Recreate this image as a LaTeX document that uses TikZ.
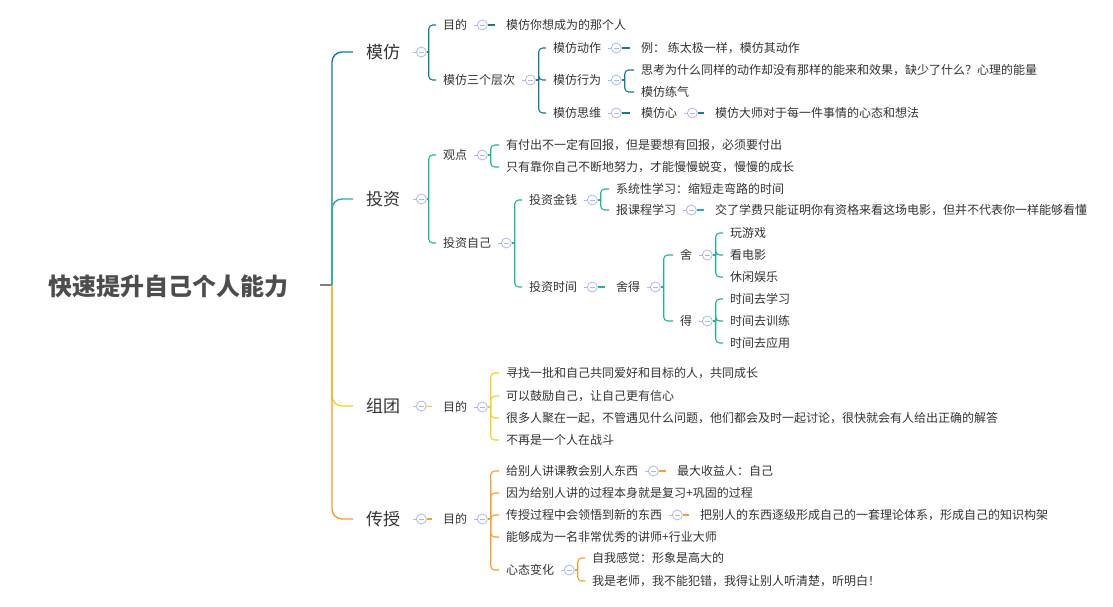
\documentclass[tikz,border=0pt]{standalone}
\usepackage{fontspec}
\setmainfont{Noto Sans CJK SC}
\usetikzlibrary{positioning}
\definecolor{mfblue}{RGB}{18,124,150}
\definecolor{tzgreen}{RGB}{26,184,152}
\definecolor{ztyellow}{RGB}{247,208,28}
\definecolor{csorange}{RGB}{246,160,36}
\definecolor{foldblue}{RGB}{172,186,234}
\definecolor{txtgray}{RGB}{51,51,51}
\definecolor{rootgray}{RGB}{77,77,77}
% collapse marker after a topic
\newcommand{\fold}[2]{\node[fold, right=2.5pt of #2] (#1) {};
  \draw[foldblue, line width=0.8pt] (#2.east) -- (#1.west);}

\begin{document}
\begin{tikzpicture}[x=1pt, y=-1pt,
    txt/.style={anchor=west, inner xsep=7pt, inner ysep=1pt, text=txtgray, font=\fontsize{12}{14}\selectfont},
    big/.style={txt, inner xsep=13pt, font=\fontsize{17}{20}\selectfont},
    fold/.style={circle, draw=foldblue, fill=white, line width=0.8pt, minimum size=10pt, inner sep=0pt,
      path picture={\draw[foldblue, line width=0.8pt] ([xshift=-2.5pt]path picture bounding box.center) -- ([xshift=2.5pt]path picture bounding box.center);}},
    mfline/.style={draw=mfblue, line width=1.1pt, rounded corners=4pt},
    tzline/.style={draw=tzgreen, line width=1.1pt, rounded corners=4pt},
    ztline/.style={draw=ztyellow, line width=1.1pt, rounded corners=4pt},
    csline/.style={draw=csorange, line width=1.1pt, rounded corners=4pt},
    gap/.style={shorten >=4pt}]
\useasboundingbox (0,0) rectangle (1113,606);

\node[font=\fontsize{24}{28}\selectfont\bfseries, text=rootgray] (root) at (168,286) {快速提升自己个人能力};
\coordinate (hubin) at (320,285);
\coordinate (hub) at (332,285);
\draw[gray, line width=1.3pt] (hubin) -- (hub);

% main topics
\node[big] (mf) at (353,52) {模仿};
\node[big] (tz) at (353,199) {投资};
\node[big] (zt) at (353,406) {组团};
\node[big] (cs) at (353,519) {传授};
\draw[mfline, line width=1.4pt, rounded corners=10pt] (hub) |- (mf.west);
\draw[tzline, line width=1.4pt, rounded corners=10pt] (hub) |- (tz.west);
\draw[ztline, line width=1.4pt, rounded corners=10pt] (hub) |- (zt.west);
\draw[csline, line width=1.4pt, rounded corners=10pt] (hub) |- (cs.west);

% 模仿
\fold{fmf}{mf}
\coordinate (kmf) at ([xshift=2pt]fmf.east);
\node[txt] (mfmd) at (436,25) {目的};
\node[txt] (mfcc) at (436,80) {模仿三个层次};
\draw[mfline] (fmf.east) -- (kmf);
\draw[mfline] (kmf) |- (mfmd.west);
\draw[mfline] (kmf) |- (mfcc.west);
\fold{fmfmd}{mfmd}
\node[txt] (mfmdx) at (499,25) {模仿你想成为的那个人};
\draw[mfline, gap] (fmfmd.east) -- (mfmdx.west);
\fold{fmfcc}{mfcc}
\coordinate (kmfcc) at ([xshift=3pt]fmfcc.east);
\node[txt] (mfdz) at (546,48) {模仿动作};
\node[txt] (mfxw) at (546,80) {模仿行为};
\node[txt] (mfsw) at (546,113) {模仿思维};
\draw[mfline] (fmfcc.east) -- (kmfcc);
\draw[mfline] (kmfcc) |- (mfdz.west);
\draw[mfline] (kmfcc) |- (mfxw.west);
\draw[mfline] (kmfcc) |- (mfsw.west);
\fold{fmfdz}{mfdz}
\node[txt] (mfdzx) at (634,48) {例： 练太极一样，模仿其动作};
\draw[mfline, gap] (fmfdz.east) -- (mfdzx.west);
\fold{fmfxw}{mfxw}
\coordinate (kmfxw) at ([xshift=3pt]fmfxw.east);
\node[txt] (mfxwa) at (634,70) {思考为什么同样的动作却没有那样的能来和效果，缺少了什么？心理的能量};
\node[txt] (mfxwb) at (634,92) {模仿练气};
\draw[mfline] (fmfxw.east) -- (kmfxw);
\draw[mfline] (kmfxw) |- (mfxwa.west);
\draw[mfline] (kmfxw) |- (mfxwb.west);
\fold{fmfsw}{mfsw}
\node[txt] (mfswx) at (634,113) {模仿心};
\draw[mfline, gap] (fmfsw.east) -- (mfswx.west);
\fold{fmfswx}{mfswx}
\node[txt] (mfswy) at (708,113) {模仿大师对于每一件事情的心态和想法};
\draw[mfline, gap] (fmfswx.east) -- (mfswy.west);

% 投资
\fold{ftz}{tz}
\coordinate (ktz) at ([xshift=2pt]ftz.east);
\node[txt] (tzgd) at (436,155) {观点};
\node[txt] (tzzj) at (436,243) {投资自己};
\draw[tzline] (ftz.east) -- (ktz);
\draw[tzline] (ktz) |- (tzgd.west);
\draw[tzline] (ktz) |- (tzzj.west);
\fold{ftzgd}{tzgd}
\coordinate (ktzgd) at ([xshift=3pt]ftzgd.east);
\node[txt] (tzgda) at (499,145) {有付出不一定有回报，但是要想有回报，必须要付出};
\node[txt] (tzgdb) at (499,167) {只有靠你自己不断地努力，才能慢慢蜕变，慢慢的成长};
\draw[tzline] (ftzgd.east) -- (ktzgd);
\draw[tzline] (ktzgd) |- (tzgda.west);
\draw[tzline] (ktzgd) |- (tzgdb.west);
\fold{ftzzj}{tzzj}
\coordinate (ktzzj) at ([xshift=3pt]ftzzj.east);
\node[txt] (tzjq) at (522,200) {投资金钱};
\node[txt] (tzsj) at (522,287) {投资时间};
\draw[tzline] (ftzzj.east) -- (ktzzj);
\draw[tzline] (ktzzj) |- (tzjq.west);
\draw[tzline] (ktzzj) |- (tzsj.west);
\fold{ftzjq}{tzjq}
\coordinate (ktzjq) at ([xshift=3pt]ftzjq.east);
\node[txt] (tzjqa) at (609,189) {系统性学习：缩短走弯路的时间};
\node[txt] (tzjqb) at (609,210) {报课程学习};
\draw[tzline] (ftzjq.east) -- (ktzjq);
\draw[tzline] (ktzjq) |- (tzjqa.west);
\draw[tzline] (ktzjq) |- (tzjqb.west);
\fold{ftzjqb}{tzjqb}
\node[txt] (tzjqbx) at (708,210) {交了学费只能证明你有资格来看这场电影，但并不代表你一样能够看懂};
\draw[tzline, gap] (ftzjqb.east) -- (tzjqbx.west);
\fold{ftzsj}{tzsj}
\node[txt] (tzsd) at (609,287) {舍得};
\draw[tzline, gap] (ftzsj.east) -- (tzsd.west);
\fold{ftzsd}{tzsd}
\coordinate (ktzsd) at ([xshift=3pt]ftzsd.east);
\node[txt] (tzshe) at (673,255) {舍};
\node[txt] (tzde) at (673,321) {得};
\draw[tzline] (ftzsd.east) -- (ktzsd);
\draw[tzline] (ktzsd) |- (tzshe.west);
\draw[tzline] (ktzsd) |- (tzde.west);
\fold{ftzshe}{tzshe}
\coordinate (ktzshe) at ([xshift=3pt]ftzshe.east);
\node[txt] (tzshea) at (723,233) {玩游戏};
\node[txt] (tzsheb) at (723,255) {看电影};
\node[txt] (tzshec) at (723,277) {休闲娱乐};
\draw[tzline] (ftzshe.east) -- (ktzshe);
\draw[tzline] (ktzshe) |- (tzshea.west);
\draw[tzline] (ktzshe) |- (tzsheb.west);
\draw[tzline] (ktzshe) |- (tzshec.west);
\fold{ftzde}{tzde}
\coordinate (ktzde) at ([xshift=3pt]ftzde.east);
\node[txt] (tzdea) at (723,299) {时间去学习};
\node[txt] (tzdeb) at (723,321) {时间去训练};
\node[txt] (tzdec) at (723,343) {时间去应用};
\draw[tzline] (ftzde.east) -- (ktzde);
\draw[tzline] (ktzde) |- (tzdea.west);
\draw[tzline] (ktzde) |- (tzdeb.west);
\draw[tzline] (ktzde) |- (tzdec.west);

% 组团
\fold{fzt}{zt}
\node[txt] (ztmd) at (436,407) {目的};
\draw[ztline, gap] (fzt.east) -- (ztmd.west);
\fold{fztmd}{ztmd}
\coordinate (kztmd) at ([xshift=3pt]fztmd.east);
\node[txt] (zta) at (499,373) {寻找一批和自己共同爱好和目标的人，共同成长};
\node[txt] (ztb) at (499,396) {可以鼓励自己，让自己更有信心};
\node[txt] (ztc) at (499,418) {很多人聚在一起，不管遇见什么问题，他们都会及时一起讨论，很快就会有人给出正确的解答};
\node[txt] (ztd) at (499,440) {不再是一个人在战斗};
\draw[ztline] (fztmd.east) -- (kztmd);
\draw[ztline] (kztmd) |- (zta.west);
\draw[ztline] (kztmd) |- (ztb.west);
\draw[ztline] (kztmd) |- (ztc.west);
\draw[ztline] (kztmd) |- (ztd.west);

% 传授
\fold{fcs}{cs}
\node[txt] (csmd) at (436,519) {目的};
\draw[csline, gap] (fcs.east) -- (csmd.west);
\fold{fcsmd}{csmd}
\coordinate (kcsmd) at ([xshift=3pt]fcsmd.east);
\node[txt] (csa) at (499,471) {给别人讲课教会别人东西};
\node[txt] (csb) at (499,493) {因为给别人讲的过程本身就是复习+巩固的过程};
\node[txt] (csc) at (499,515) {传授过程中会领悟到新的东西};
\node[txt] (csd) at (499,537) {能够成为一名非常优秀的讲师+行业大师};
\node[txt] (cse) at (499,570) {心态变化};
\draw[csline] (fcsmd.east) -- (kcsmd);
\draw[csline] (kcsmd) |- (csa.west);
\draw[csline] (kcsmd) |- (csb.west);
\draw[csline] (kcsmd) |- (csc.west);
\draw[csline] (kcsmd) |- (csd.west);
\draw[csline] (kcsmd) |- (cse.west);
\fold{fcsa}{csa}
\node[txt] (csax) at (670,471) {最大收益人：自己};
\draw[csline, gap] (fcsa.east) -- (csax.west);
\fold{fcsc}{csc}
\node[txt] (cscx) at (693,515) {把别人的东西逐级形成自己的一套理论体系，形成自己的知识构架};
\draw[csline, gap] (fcsc.east) -- (cscx.west);
\fold{fcse}{cse}
\coordinate (kcse) at ([xshift=3pt]fcse.east);
\node[txt] (csea) at (585,558) {自我感觉：形象是高大的};
\node[txt] (cseb) at (585,581) {我是老师，我不能犯错，我得让别人听清楚，听明白！};
\draw[csline] (fcse.east) -- (kcse);
\draw[csline] (kcse) |- (csea.west);
\draw[csline] (kcse) |- (cseb.west);
\end{tikzpicture}
\end{document}
